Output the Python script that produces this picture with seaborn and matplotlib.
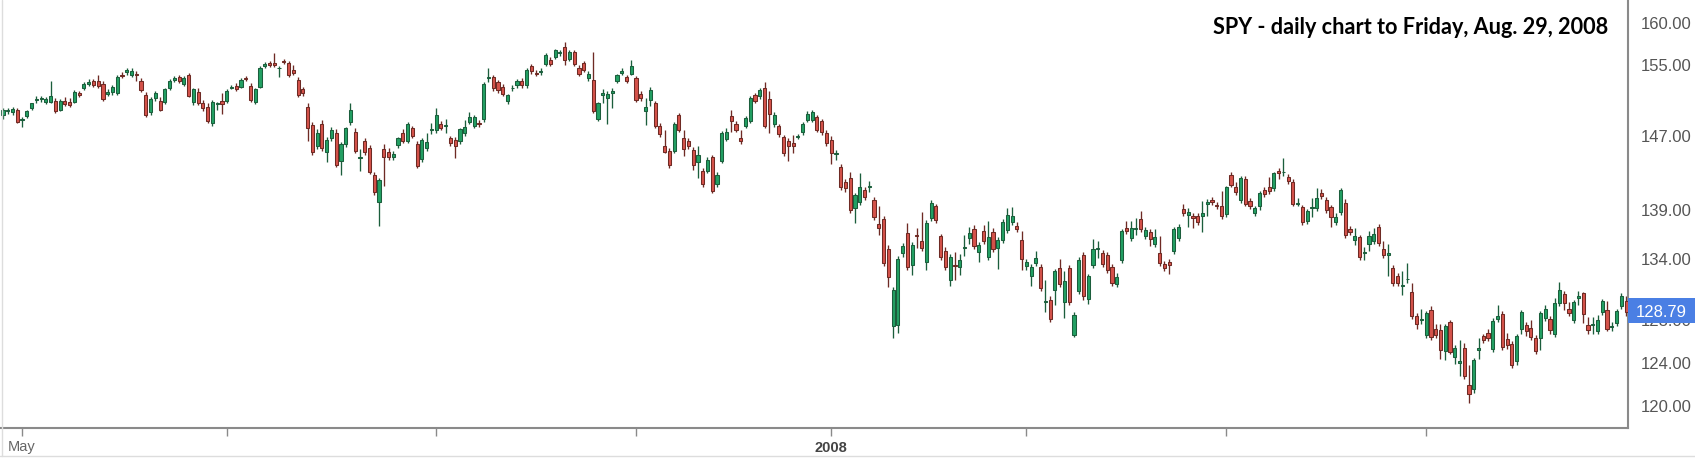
import numpy as np
import pandas as pd
import matplotlib
matplotlib.use("Agg")
import matplotlib.pyplot as plt
import seaborn as sns
from matplotlib.ticker import FixedLocator, NullLocator, FuncFormatter
from matplotlib.patches import Rectangle
from matplotlib.lines import Line2D
import matplotlib.transforms as mtransforms

# ---------------- data ----------------
title_text = "SPY - daily chart to Friday, Aug. 29, 2008"
first_day = "2007-04-25"
last_day = "2008-08-29"
market_holidays = ["2007-05-28", "2007-07-04", "2007-09-03", "2007-11-22", "2007-12-25",
                   "2008-01-01", "2008-01-21", "2008-02-18", "2008-03-21", "2008-05-26",
                   "2008-07-04"]

open_ = [
    149.30, 149.70, 149.60, 149.90, 148.75, 149.20, 150.10, 151.00, 151.10, 150.80,
    150.80, 150.90, 149.90, 150.90, 150.80, 150.80, 151.75, 152.30, 152.85, 153.10,
    153.20, 152.80, 151.70, 151.90, 151.80, 153.90, 154.20, 153.80, 154.00, 153.20,
    151.60, 149.60, 151.20, 150.90, 150.80, 152.30, 153.30, 153.60, 152.80, 153.90,
    150.80, 151.90, 150.60, 150.20, 148.40, 150.55, 150.90, 150.90, 152.40, 152.60,
    152.50, 153.45, 152.60, 150.80, 152.50, 154.85, 155.25, 155.25, 154.60, 155.45,
    155.25, 154.40, 153.30, 152.20, 150.20, 148.20, 145.90, 148.30, 145.20, 146.70,
    147.30, 144.20, 146.10, 148.50, 147.40, 144.60, 146.45, 145.60, 142.75, 139.90,
    145.50, 145.20, 144.65, 145.95, 147.35, 146.45, 147.80, 146.10, 144.40, 145.60,
    147.60, 147.58, 148.25, 148.10, 146.70, 146.57, 146.40, 147.30, 148.53, 148.06,
    148.40, 148.80, 153.50, 153.60, 153.00, 152.50, 150.85, 152.30, 152.70, 153.20,
    152.70, 154.84, 154.05, 154.20, 155.15, 155.63, 155.95, 156.40, 157.14, 155.75,
    156.55, 154.68, 155.25, 153.50, 153.27, 148.90, 151.60, 151.23, 151.80, 153.20,
    154.04, 153.60, 154.02, 153.45, 151.66, 149.70, 151.00, 150.63, 148.10, 145.82,
    145.35, 145.35, 149.33, 146.73, 146.44, 145.46, 144.13, 143.13, 143.13, 144.63,
    141.78, 144.27, 146.66, 149.14, 148.28, 146.73, 148.02, 148.66, 151.50, 151.40,
    152.35, 151.12, 148.28, 148.02, 146.81, 146.37, 146.18, 146.85, 147.39, 148.77,
    148.77, 149.03, 148.66, 147.28, 146.55, 145.05, 143.60, 142.00, 142.40, 139.20,
    139.90, 141.10, 141.40, 140.10, 137.60, 138.10, 135.00, 127.40, 127.50, 134.60,
    136.70, 133.40, 136.40, 135.80, 133.70, 138.20, 139.40, 136.30, 134.80, 131.90,
    133.40, 133.20, 135.10, 136.10, 137.10, 134.70, 136.90, 134.20, 136.80, 135.10,
    135.90, 137.00, 137.80, 137.40, 135.90, 133.30, 132.30, 133.60, 133.20, 129.80,
    130.00, 130.90, 133.10, 129.80, 133.10, 126.60, 130.80, 134.40, 130.10, 133.40,
    135.00, 134.60, 134.40, 133.20, 131.50, 133.90, 137.20, 136.10, 137.10, 138.10,
    136.30, 136.80, 135.50, 134.60, 133.50, 133.70, 134.80, 136.10, 139.10, 138.50,
    138.40, 138.40, 138.40, 139.70, 140.10, 139.60, 139.50, 138.60, 142.70, 141.40,
    140.10, 142.30, 140.00, 138.70, 139.40, 141.10, 141.40, 141.30, 143.20, 143.00,
    142.50, 142.00, 139.70, 139.30, 137.90, 139.20, 139.20, 140.80, 140.10, 139.30,
    137.80, 138.80, 139.80, 137.10, 135.90, 136.20, 134.60, 135.50, 135.80, 137.30,
    135.00, 134.40, 133.10, 132.30, 131.30, 132.00, 130.75, 128.40, 128.05, 126.60,
    129.00, 127.20, 127.10, 125.10, 127.80, 124.50, 124.00, 125.40, 121.90, 121.60,
    125.20, 126.50, 126.80, 125.25, 128.10, 128.60, 126.20, 125.70, 124.10, 127.20,
    127.50, 127.30, 126.30, 126.30, 128.20, 128.10, 126.70, 129.70, 130.55, 129.05,
    128.00, 130.20, 130.60, 127.50, 127.55, 127.00, 128.80, 129.00, 127.35, 127.70,
    129.40, 129.90,
]

high = [
    150.10, 150.10, 150.20, 150.10, 149.10, 149.90, 150.70, 151.40, 151.40, 151.30,
    153.20, 151.20, 151.10, 151.30, 151.20, 152.10, 152.00, 153.00, 153.40, 153.40,
    153.80, 153.10, 152.20, 152.70, 153.80, 154.20, 154.60, 154.60, 154.30, 153.50,
    151.90, 151.30, 152.00, 151.30, 152.40, 153.40, 153.70, 153.90, 153.70, 154.10,
    152.40, 152.30, 151.00, 150.60, 151.00, 150.80, 151.80, 152.20, 152.70, 152.90,
    153.50, 153.70, 152.90, 152.40, 154.90, 155.30, 155.50, 156.40, 154.90, 155.70,
    155.50, 155.00, 153.60, 152.50, 150.60, 148.50, 147.70, 148.70, 146.90, 148.00,
    147.70, 146.30, 148.00, 150.70, 147.80, 145.50, 146.80, 146.00, 143.10, 142.40,
    146.10, 145.60, 145.30, 146.90, 147.70, 148.50, 148.10, 146.40, 146.80, 147.30,
    148.40, 150.10, 148.60, 148.80, 147.00, 146.90, 147.90, 148.70, 149.65, 149.30,
    148.70, 153.00, 154.68, 153.90, 153.30, 152.80, 151.70, 152.70, 153.40, 153.50,
    154.60, 155.10, 154.40, 154.60, 156.40, 155.90, 156.90, 156.80, 157.74, 156.80,
    156.80, 155.00, 155.50, 154.30, 156.50, 150.80, 152.20, 152.00, 152.40, 154.00,
    154.60, 153.90, 155.59, 153.70, 152.00, 151.27, 152.50, 150.90, 148.40, 147.65,
    145.70, 148.50, 149.50, 147.65, 146.80, 145.80, 145.82, 143.50, 144.70, 144.90,
    143.00, 147.50, 147.80, 149.90, 148.60, 147.65, 149.20, 151.40, 151.80, 152.40,
    153.04, 151.96, 149.60, 148.30, 147.10, 146.70, 147.03, 147.20, 148.50, 149.70,
    149.90, 149.30, 148.90, 147.60, 147.00, 145.40, 143.90, 142.30, 143.10, 140.80,
    142.90, 141.40, 142.10, 140.40, 139.40, 138.40, 135.40, 131.20, 134.30, 135.60,
    137.70, 135.70, 137.20, 138.85, 138.00, 140.10, 139.70, 136.60, 135.20, 134.50,
    134.70, 134.50, 136.50, 137.30, 137.50, 135.70, 137.50, 137.90, 137.20, 136.20,
    138.10, 139.20, 139.30, 137.80, 136.90, 134.00, 133.50, 134.80, 133.50, 131.90,
    130.30, 133.00, 134.00, 132.80, 133.40, 128.80, 134.20, 134.70, 132.50, 136.00,
    135.80, 134.90, 134.70, 133.50, 132.60, 137.10, 137.90, 137.90, 138.20, 138.90,
    137.30, 137.10, 137.10, 136.30, 133.80, 134.00, 137.30, 137.60, 139.70, 139.20,
    138.70, 138.70, 140.00, 140.20, 140.40, 139.90, 141.00, 141.60, 143.00, 142.00,
    142.60, 142.60, 140.30, 139.50, 141.00, 141.40, 142.50, 143.10, 143.50, 144.60,
    142.80, 142.30, 140.30, 139.60, 139.10, 140.30, 141.30, 141.20, 140.40, 139.60,
    138.70, 141.30, 140.20, 137.40, 137.20, 136.50, 135.20, 136.90, 137.20, 137.60,
    135.80, 135.50, 133.40, 132.60, 132.80, 133.60, 131.60, 128.70, 129.10, 128.90,
    129.40, 127.60, 127.60, 127.60, 128.00, 125.60, 126.10, 125.80, 123.80, 124.40,
    126.30, 126.70, 127.20, 128.20, 129.50, 128.90, 126.80, 126.00, 126.70, 129.00,
    127.80, 128.00, 126.60, 128.90, 129.50, 128.40, 130.20, 131.70, 130.80, 129.80,
    130.00, 130.80, 130.70, 128.30, 128.30, 128.50, 130.10, 129.90, 127.80, 129.10,
    130.60, 130.30,
]

low = [
    148.90, 149.40, 149.30, 148.40, 148.00, 149.00, 149.90, 150.70, 150.80, 150.50,
    150.60, 149.50, 149.70, 150.30, 150.20, 150.60, 151.30, 152.10, 152.60, 152.50,
    152.40, 150.90, 151.40, 151.60, 151.60, 153.50, 153.90, 153.60, 153.20, 151.90,
    149.10, 149.30, 150.90, 149.70, 150.50, 152.10, 153.00, 152.90, 152.60, 151.30,
    150.40, 150.40, 149.80, 148.40, 148.10, 149.85, 149.45, 150.70, 152.20, 152.00,
    152.30, 153.10, 150.80, 150.50, 152.30, 154.60, 154.80, 154.80, 153.60, 155.10,
    153.60, 153.80, 151.30, 151.40, 146.45, 144.90, 145.50, 145.30, 144.10, 146.40,
    143.60, 142.75, 145.80, 148.20, 145.10, 143.20, 144.90, 142.80, 140.60, 137.35,
    141.60, 144.30, 144.30, 145.70, 146.20, 146.20, 146.70, 143.50, 144.10, 145.30,
    147.15, 147.30, 147.60, 147.30, 145.90, 144.56, 146.10, 147.00, 148.30, 147.80,
    148.00, 148.50, 153.00, 152.00, 151.80, 151.40, 150.50, 152.00, 152.40, 152.40,
    152.40, 154.00, 153.70, 153.90, 154.90, 154.90, 155.70, 156.10, 154.96, 155.50,
    154.90, 153.70, 154.20, 153.20, 149.50, 148.60, 150.66, 148.25, 150.03, 152.90,
    153.80, 152.90, 153.80, 150.80, 150.90, 148.20, 150.26, 147.80, 146.90, 145.10,
    143.50, 145.10, 147.40, 144.74, 145.50, 143.31, 142.42, 141.40, 142.90, 140.80,
    141.40, 144.00, 146.40, 147.46, 147.40, 146.10, 147.80, 148.40, 150.60, 151.10,
    147.80, 147.28, 148.00, 146.90, 144.80, 144.20, 145.10, 146.60, 147.10, 148.50,
    148.50, 147.40, 147.10, 145.90, 143.90, 144.30, 141.10, 140.90, 138.70, 137.70,
    139.60, 140.10, 140.90, 138.00, 136.40, 133.30, 131.20, 126.30, 126.80, 134.20,
    132.90, 132.40, 135.10, 134.80, 132.90, 137.90, 137.70, 133.90, 132.90, 131.30,
    131.90, 132.40, 134.30, 135.50, 135.00, 133.70, 135.50, 133.90, 134.70, 133.00,
    135.60, 136.70, 137.50, 136.80, 132.90, 132.90, 131.30, 133.30, 130.80, 128.80,
    127.80, 129.50, 131.20, 128.20, 129.50, 126.40, 130.50, 130.00, 129.60, 133.10,
    134.10, 133.20, 132.60, 131.30, 131.20, 133.60, 136.60, 135.80, 136.40, 136.80,
    136.00, 135.30, 135.20, 133.30, 132.80, 132.50, 134.50, 135.80, 138.40, 137.30,
    137.20, 137.50, 136.80, 138.40, 139.60, 139.10, 138.10, 138.30, 141.40, 140.60,
    139.80, 139.40, 139.10, 138.40, 139.00, 140.40, 140.70, 141.00, 142.30, 142.60,
    141.80, 139.40, 139.40, 137.50, 137.60, 138.30, 138.90, 140.20, 138.70, 137.30,
    137.50, 138.50, 136.10, 136.50, 135.40, 133.90, 133.90, 134.80, 135.50, 135.30,
    134.10, 132.30, 131.30, 131.30, 130.40, 131.60, 128.10, 127.20, 127.60, 126.30,
    126.10, 126.30, 124.30, 124.20, 124.80, 123.90, 122.80, 122.50, 120.30, 121.20,
    124.30, 125.80, 126.00, 125.00, 127.80, 125.20, 125.30, 123.50, 123.80, 126.70,
    126.50, 126.10, 124.80, 125.20, 127.90, 126.70, 126.40, 129.40, 129.00, 128.40,
    127.70, 129.50, 127.70, 126.70, 126.70, 126.70, 128.50, 127.00, 127.00, 127.40,
    129.10, 128.40,
]

close = [
    149.85, 149.90, 149.95, 148.50, 148.85, 149.80, 150.60, 151.15, 151.20, 151.05,
    151.45, 149.75, 150.90, 150.50, 150.45, 151.90, 151.60, 152.80, 153.00, 152.70,
    152.60, 151.10, 151.95, 152.50, 153.60, 153.75, 154.40, 154.30, 153.80, 152.10,
    149.30, 151.10, 151.75, 149.90, 152.20, 153.20, 153.50, 153.10, 153.50, 151.45,
    152.20, 150.60, 150.10, 148.60, 150.80, 150.60, 150.50, 152.00, 152.50, 152.20,
    153.30, 153.35, 151.00, 152.20, 154.70, 155.10, 154.95, 154.95, 154.70, 155.35,
    153.80, 154.05, 151.50, 151.80, 147.90, 145.20, 147.35, 145.60, 146.55, 147.65,
    143.80, 146.10, 147.80, 149.85, 145.35, 144.70, 145.20, 143.00, 140.90, 142.15,
    144.65, 144.65, 145.00, 146.70, 146.45, 148.30, 146.95, 143.70, 146.57, 146.30,
    147.75, 149.28, 147.87, 148.17, 146.20, 145.84, 147.70, 147.94, 149.06, 149.06,
    148.25, 152.80, 153.60, 152.30, 152.07, 151.70, 151.50, 152.40, 153.20, 152.70,
    154.45, 154.30, 154.00, 154.30, 156.15, 155.15, 156.75, 156.55, 155.63, 156.55,
    155.15, 154.00, 154.45, 154.00, 149.73, 150.66, 151.80, 151.70, 152.00, 153.80,
    154.30, 153.20, 154.84, 151.00, 151.27, 150.15, 152.15, 148.02, 147.17, 145.20,
    143.77, 148.28, 147.65, 145.57, 145.82, 143.77, 144.85, 141.72, 144.38, 141.02,
    142.70, 147.28, 147.46, 148.66, 147.65, 146.37, 148.95, 151.20, 150.90, 152.15,
    148.02, 149.40, 149.33, 147.17, 145.10, 145.82, 145.82, 146.92, 148.28, 149.40,
    149.63, 147.65, 147.39, 146.18, 145.10, 145.10, 141.40, 141.30, 139.00, 140.60,
    141.50, 140.40, 141.55, 138.30, 137.20, 133.60, 132.20, 130.90, 134.00, 135.30,
    133.20, 135.40, 136.30, 135.10, 137.70, 139.80, 138.00, 134.20, 133.20, 134.20,
    133.30, 133.90, 135.20, 136.70, 135.30, 135.40, 135.80, 136.20, 135.00, 135.90,
    137.80, 138.50, 138.40, 137.10, 134.00, 133.70, 133.20, 134.10, 131.10, 129.90,
    128.10, 132.80, 131.50, 131.80, 129.80, 128.50, 133.90, 130.30, 132.30, 135.00,
    135.10, 133.50, 132.90, 131.60, 132.20, 136.90, 136.90, 137.20, 137.20, 137.10,
    137.00, 136.00, 136.20, 133.60, 133.10, 133.40, 137.10, 137.30, 138.70, 138.85,
    138.20, 137.80, 138.70, 139.90, 139.90, 139.40, 138.40, 141.40, 141.70, 140.90,
    142.40, 139.70, 139.40, 139.20, 140.80, 140.70, 141.00, 142.90, 142.90, 143.10,
    142.10, 139.70, 139.80, 137.80, 138.90, 139.30, 140.25, 140.50, 139.00, 138.30,
    138.30, 141.10, 136.40, 136.80, 136.30, 134.20, 134.70, 136.30, 136.60, 135.60,
    134.40, 134.60, 131.60, 131.60, 131.40, 132.05, 128.40, 127.60, 128.10, 128.65,
    126.40, 126.60, 125.20, 127.40, 125.00, 125.40, 124.15, 122.80, 121.10, 124.20,
    125.35, 126.10, 126.30, 127.90, 128.40, 125.50, 125.65, 123.80, 126.50, 128.80,
    127.00, 126.40, 125.10, 128.65, 129.10, 127.10, 129.70, 130.90, 129.65, 128.70,
    129.80, 130.35, 128.60, 127.10, 127.65, 128.00, 129.90, 127.20, 127.45, 128.90,
    130.30, 128.79,
]

price_ticks = [120, 124, 128, 134, 139, 147, 155, 160]
month_ticks = ["2007-05", "2007-07", "2007-09", "2007-11",
               "2008-01", "2008-03", "2008-05", "2008-07"]
month_labels = ["May", "", "", "", "2008", "", "", ""]
last_price = 128.79

# ---------------- checks ----------------
dates = pd.bdate_range(first_day, last_day)
dates = dates[~dates.isin(pd.to_datetime(market_holidays))]
n = len(close)
for name, arr in [("open", open_), ("high", high), ("low", low)]:
    if len(arr) != n:
        raise ValueError(f"{name} has {len(arr)} values, close has {n}")
if len(dates) != n:
    raise ValueError(f"{len(dates)} trading dates vs {n} candles")

df = pd.DataFrame({"date": dates, "open": open_, "high": high, "low": low, "close": close})
df["pos"] = np.arange(n)
bad = df[(df.high < df[["open", "close"]].max(axis=1)) | (df.low > df[["open", "close"]].min(axis=1))]
if len(bad):
    raise ValueError("bad OHLC rows: " + str(bad.index.tolist()))

# ---------------- style ----------------
sns.set_theme(style="white")
plt.rcParams["font.family"] = ["Liberation Sans", "DejaVu Sans"]

GREEN, GREEN_EDGE = "#23a063", "#1b5e3c"
RED, RED_EDGE = "#d4524a", "#6e2a24"
AXIS = "#8a8a8a"

W, H = 1695, 458
fig = plt.figure(figsize=(W / 100, H / 100), dpi=100)
ax = fig.add_axes([0, 30 / H, 1628 / W, 428 / H])

up = df["close"] >= df["open"]
face = np.where(up, GREEN, RED)
edge = np.where(up, GREEN_EDGE, RED_EDGE)
body_low = df[["open", "close"]].min(axis=1)
body_h = (df["close"] - df["open"]).abs().clip(lower=0.03)

ax.vlines(df["pos"], df["low"], df["high"], colors=edge, linewidth=0.95, zorder=2)
ax.bar(df["pos"], body_h, bottom=body_low, width=0.66, color=face,
       edgecolor=edge, linewidth=0.75, zorder=3)

ax.set_yscale("log")
ax.set_ylim(118.06, 162.75)
ax.set_xlim(-0.63, 341.4)

ax.yaxis.tick_right()
ax.yaxis.set_major_locator(FixedLocator(price_ticks))
ax.yaxis.set_major_formatter(FuncFormatter(lambda v, p: f"{v:.2f}"))
ax.yaxis.set_minor_locator(NullLocator())
ax.yaxis.set_minor_formatter(FuncFormatter(lambda v, p: ""))
ax.tick_params(axis="y", which="major", right=True, left=False, length=6, width=1,
               color=AXIS, labelsize=12, labelcolor="#555555", pad=3)

tick_pos = [int(df.index[df["date"] >= pd.Timestamp(m + "-01")][0]) for m in month_ticks]
ax.set_xticks(tick_pos)
ax.set_xticklabels(month_labels)
ax.tick_params(axis="x", which="major", bottom=True, length=6, width=1,
               color=AXIS, labelsize=10.5, labelcolor="#666666", pad=3)
for lbl in ax.get_xticklabels():
    if lbl.get_text() == "2008":
        lbl.set_fontweight("bold")
        lbl.set_color("#444444")

sns.despine(ax=ax, left=True, top=True, right=False, bottom=False)
for s in ("right", "bottom"):
    ax.spines[s].set_color(AXIS)
    ax.spines[s].set_linewidth(1.5)
ax.grid(False)

# last price marker on the right axis
trans = mtransforms.blended_transform_factory(ax.transAxes, ax.transData)
ax.add_patch(Rectangle((1.0, 127.72), (W - 1628) / 1628, 130.15 - 127.72,
                       transform=trans, facecolor="#4a7fe4", edgecolor="none",
                       clip_on=False, zorder=10))
ax.text(1.0 + (W - 1628) / 1628 / 2, last_price, f"{last_price:.2f}", transform=trans,
        ha="center", va="center", color="white", fontsize=12, zorder=11, clip_on=False)

# title
ax.text(1608 / 1628, 1 - 27 / 428, title_text, transform=ax.transAxes,
        ha="right", va="center", fontsize=15.6, fontweight="bold",
        family=["Lato", "DejaVu Sans"], color="black")

# light frame lines
fig.add_artist(Line2D([2 / W, 2 / W], [2 / H, 1], transform=fig.transFigure,
                      color="#dddddd", linewidth=1))
fig.add_artist(Line2D([0, 1], [2 / H, 2 / H], transform=fig.transFigure,
                      color="#dddddd", linewidth=1))

fig.savefig("out.png", dpi=100, facecolor="white")
